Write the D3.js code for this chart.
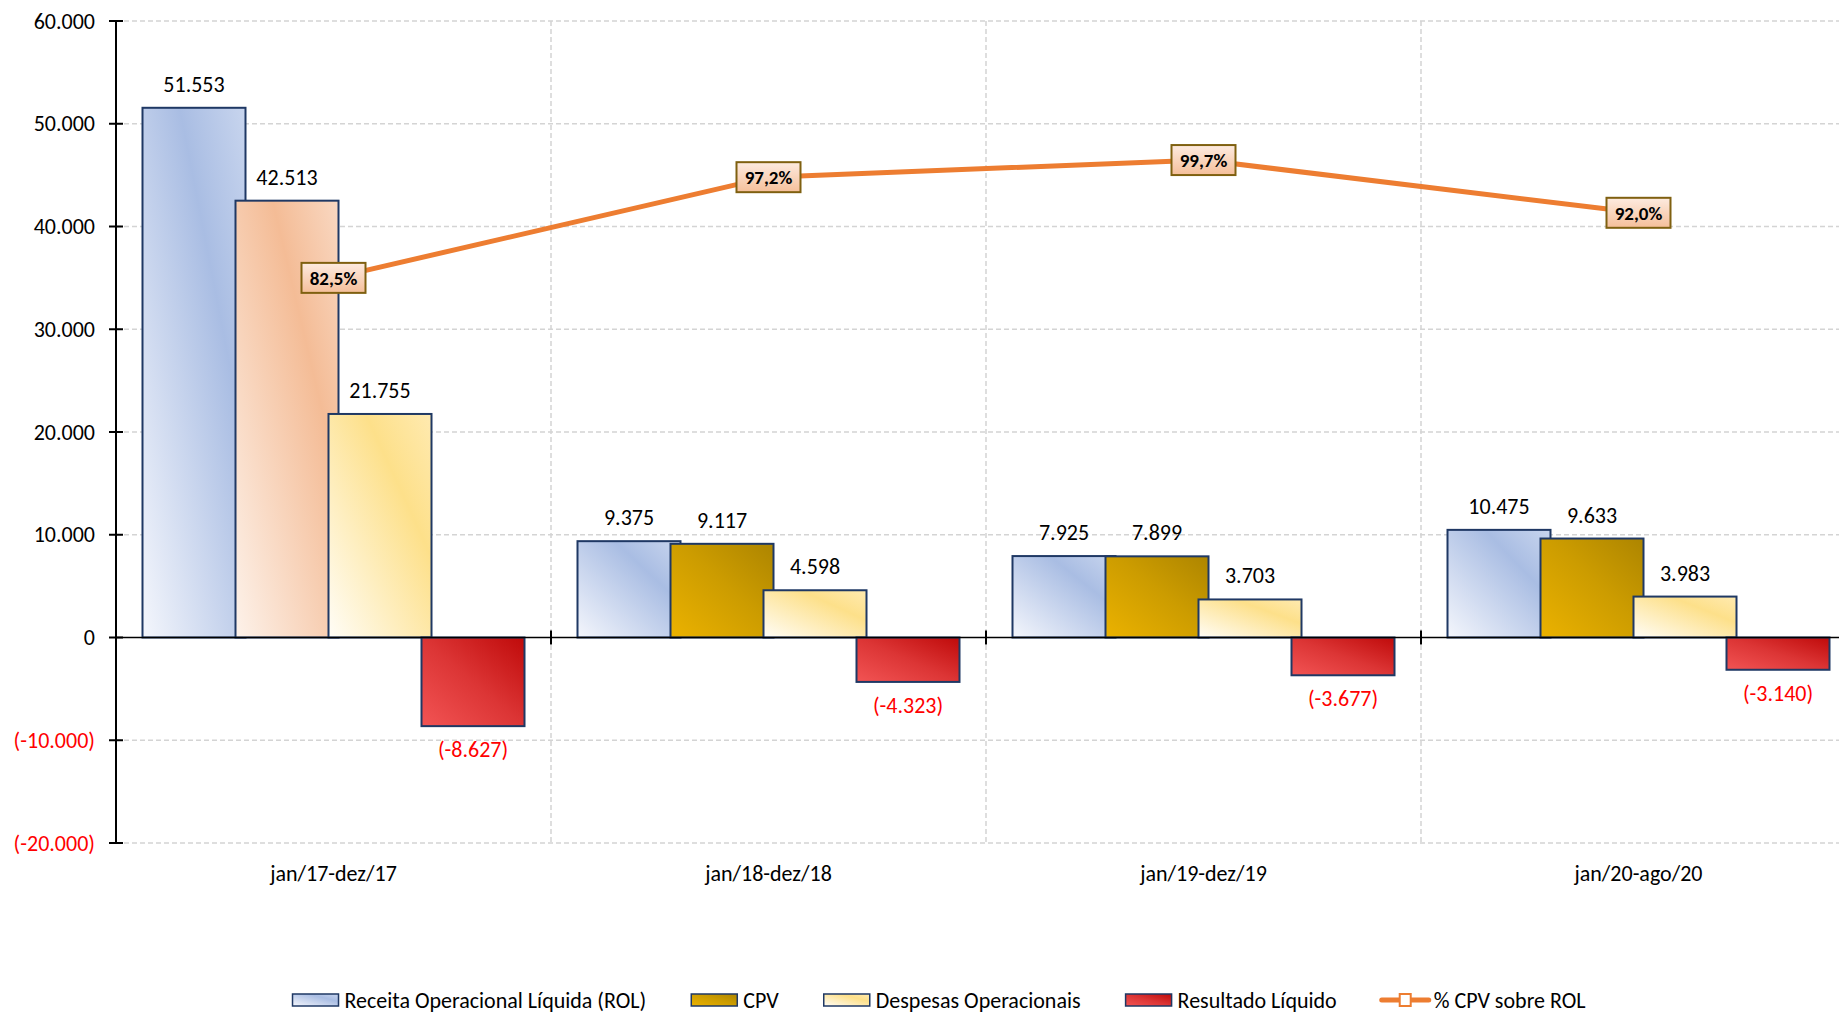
<!DOCTYPE html>
<html>
<head>
<meta charset="utf-8">
<script src="https://cdn.jsdelivr.net/npm/d3@7"></script>
<style>
 body { margin: 0; background: #fff; }
 svg { display: block; font-family: Carlito, Calibri, Lato, sans-serif; }
</style>
</head>
<body>
<svg width="1839" height="1015"></svg>
<script>
// Data
var categories = ["jan/17-dez/17", "jan/18-dez/18", "jan/19-dez/19", "jan/20-ago/20"];
var rol = [51553, 9375, 7925, 10475];
var cpv = [42513, 9117, 7899, 9633];
var despesas = [21755, 4598, 3703, 3983];
var resultado = [-8627, -4323, -3677, -3140];
var pctCpv = [0.825, 0.972, 0.997, 0.920];
var yTicks = [-20000, -10000, 0, 10000, 20000, 30000, 40000, 50000, 60000];

// The svg
var svg = d3.select("svg"),
 width = +svg.attr("width"),
 height = +svg.attr("height");

var fontSize = 22;
var locale = d3.formatLocale({ decimal: ",", thousands: ".", grouping: [3], currency: ["R$", ""], minus: "-" });
var fmtNum = locale.format(",.0f");
var fmtPct = locale.format(".1%");
function fmtVal(v) { return v < 0 ? "(" + fmtNum(v) + ")" : fmtNum(v); }

// Scales (plot area runs past the right edge, like the original)
var plotLeft = 116, plotTop = 21, plotBottom = 843, band = 435;
var x = d3.scaleBand()
 .domain(categories)
 .range([plotLeft, plotLeft + categories.length * band]);
var y = d3.scaleLinear().domain([-20000, 60000]).range([plotBottom, plotTop]);
var y2 = d3.scaleLinear().domain([0, 1.2]).range([plotBottom, plotTop]);

var barW = 103, barStep = 93;
var xs = d3.scaleLinear().domain([0, 3]).range([26.5, 26.5 + 3 * barStep]);

// Gradients
var defs = svg.append("defs");
function grad(id, stops) {
 var g = defs.append("linearGradient").attr("id", id)
  .attr("x1", 0).attr("y1", 1).attr("x2", 1).attr("y2", 0);
 stops.forEach(function (s) {
  g.append("stop").attr("offset", s[0]).attr("stop-color", s[1]);
 });
}
grad("gBlue", [[0, "#f4f6fc"], [0.68, "#a9bde3"], [1, "#c8d5ee"]]);
grad("gPeach", [[0, "#fdf2ea"], [0.68, "#f4bc96"], [1, "#f9d8c2"]]);
grad("gGold", [[0, "#ebb200"], [0.55, "#cc9c00"], [1, "#ad8500"]]);
grad("gYellow", [[0, "#fffdf7"], [0.68, "#fde08a"], [1, "#ffeab0"]]);
grad("gRed", [[0, "#f25454"], [0.5, "#dc3535"], [1, "#bf0a0a"]]);
var boxGrad = defs.append("linearGradient").attr("id", "gBox")
 .attr("x1", 0).attr("y1", 0).attr("x2", 0).attr("y2", 1);
boxGrad.append("stop").attr("offset", 0).attr("stop-color", "#fdebe0");
boxGrad.append("stop").attr("offset", 1).attr("stop-color", "#f5bf9a");

var series = [
 { key: "Receita Operacional Líquida (ROL)", values: rol, fill: function () { return "url(#gBlue)"; } },
 { key: "CPV", values: cpv, fill: function (i) { return i === 0 ? "url(#gPeach)" : "url(#gGold)"; } },
 { key: "Despesas Operacionais", values: despesas, fill: function () { return "url(#gYellow)"; } },
 { key: "Resultado Líquido", values: resultado, fill: function () { return "url(#gRed)"; } }
];

// Gridlines
var grid = svg.append("g").attr("class", "grid");
grid.selectAll("line.h")
 .data(yTicks.filter(function (d) { return d !== 0; }))
 .enter().append("line")
 .attr("x1", plotLeft).attr("x2", width)
 .attr("y1", function (d) { return y(d); }).attr("y2", function (d) { return y(d); })
 .attr("stroke", "#d4d4d4").attr("stroke-width", 1.5).attr("stroke-dasharray", "5,3");
grid.selectAll("line.v")
 .data(categories.slice(1))
 .enter().append("line")
 .attr("x1", function (d) { return x(d); }).attr("x2", function (d) { return x(d); })
 .attr("y1", plotTop).attr("y2", plotBottom)
 .attr("stroke", "#d4d4d4").attr("stroke-width", 1.5).attr("stroke-dasharray", "5,3");

// Bars
var bars = svg.append("g").attr("class", "bars");
categories.forEach(function (cat, i) {
 series.forEach(function (s, j) {
  var v = s.values[i];
  bars.append("rect")
   .attr("x", x(cat) + xs(j))
   .attr("y", y(Math.max(0, v)))
   .attr("width", barW)
   .attr("height", Math.abs(y(v) - y(0)))
   .attr("fill", s.fill(i))
   .attr("stroke", "#1f3864")
   .attr("stroke-width", 2);
 });
});

// Zero line + axis
svg.append("line")
 .attr("x1", plotLeft).attr("x2", width)
 .attr("y1", y(0)).attr("y2", y(0))
 .attr("stroke", "#000").attr("stroke-width", 1.5);
svg.selectAll("line.xtick")
 .data(categories.slice(1))
 .enter().append("line")
 .attr("x1", function (d) { return x(d); }).attr("x2", function (d) { return x(d); })
 .attr("y1", y(0) - 7).attr("y2", y(0) + 7)
 .attr("stroke", "#000").attr("stroke-width", 2);

var yAxis = svg.append("g");
yAxis.append("line")
 .attr("x1", plotLeft).attr("x2", plotLeft)
 .attr("y1", plotTop).attr("y2", plotBottom)
 .attr("stroke", "#000").attr("stroke-width", 2);
yAxis.selectAll("line.tick")
 .data(yTicks).enter().append("line")
 .attr("x1", plotLeft - 7).attr("x2", plotLeft + 7)
 .attr("y1", function (d) { return y(d); }).attr("y2", function (d) { return y(d); })
 .attr("stroke", "#000").attr("stroke-width", 2);
yAxis.selectAll("text")
 .data(yTicks).enter().append("text")
 .attr("x", 95)
 .attr("y", function (d) { return y(d); })
 .attr("dy", "0.35em")
 .attr("text-anchor", "end")
 .attr("font-size", fontSize)
 .attr("fill", function (d) { return d < 0 ? "#ff0000" : "#000"; })
 .text(fmtVal);

// Category labels
svg.selectAll("text.cat")
 .data(categories).enter().append("text")
 .attr("x", function (d) { return x(d) + x.bandwidth() / 2; })
 .attr("y", 881)
 .attr("text-anchor", "middle")
 .attr("font-size", fontSize)
 .attr("fill", "#000")
 .text(function (d) { return d; });

// Value labels
var vals = svg.append("g").attr("class", "values");
categories.forEach(function (cat, i) {
 series.forEach(function (s, j) {
  var v = s.values[i];
  vals.append("text")
   .attr("x", x(cat) + xs(j) + barW / 2)
   .attr("y", v >= 0 ? y(v) - 16 : y(v) + 31)
   .attr("text-anchor", "middle")
   .attr("font-size", fontSize)
   .attr("fill", v < 0 ? "#ff0000" : "#000")
   .text(fmtVal(v));
 });
});

// Line % CPV sobre ROL
var line = d3.line()
 .x(function (d, i) { return x(categories[i]) + x.bandwidth() / 2; })
 .y(function (d) { return y2(d); });
svg.append("path")
 .datum(pctCpv)
 .attr("d", line)
 .attr("fill", "none")
 .attr("stroke", "#ed7d31")
 .attr("stroke-width", 5)
 .attr("stroke-linejoin", "round");

var pl = svg.selectAll("g.pct")
 .data(pctCpv).enter().append("g")
 .attr("transform", function (d, i) {
  return "translate(" + (x(categories[i]) + x.bandwidth() / 2) + "," + y2(d) + ")";
 });
pl.append("rect")
 .attr("x", -32).attr("y", -15)
 .attr("width", 64).attr("height", 30)
 .attr("fill", "url(#gBox)")
 .attr("stroke", "#7f6010").attr("stroke-width", 2);
pl.append("text")
 .attr("text-anchor", "middle")
 .attr("dy", "0.36em")
 .attr("font-size", 19)
 .attr("font-weight", "bold")
 .attr("fill", "#000")
 .text(function (d) { return fmtPct(d); });

// Legend
var legend = svg.append("g").attr("class", "legend");
var items = series.map(function (s) { return { key: s.key, type: "bar", fill: s.fill(1) }; });
items.push({ key: "% CPV sobre ROL", type: "line" });
var lx = 0, ly = 1000;
items.forEach(function (it) {
 var g = legend.append("g").attr("transform", "translate(" + lx + ",0)");
 if (it.type === "bar") {
  g.append("rect")
   .attr("x", 0).attr("y", ly - 6)
   .attr("width", 46).attr("height", 12)
   .attr("fill", it.fill)
   .attr("stroke", "#1f3864").attr("stroke-width", 1.5);
 } else {
  g.append("line")
   .attr("x1", 0).attr("x2", 47)
   .attr("y1", ly).attr("y2", ly)
   .attr("stroke", "#ed7d31").attr("stroke-width", 5).attr("stroke-linecap", "round");
  g.append("rect")
   .attr("x", 18).attr("y", ly - 6)
   .attr("width", 11).attr("height", 12)
   .attr("fill", "#fff").attr("stroke", "#ed7d31").attr("stroke-width", 2);
 }
 var t = g.append("text")
  .attr("x", 52).attr("y", ly).attr("dy", "0.35em")
  .attr("font-size", fontSize).attr("fill", "#000")
  .text(it.key);
 lx += 52 + t.node().getComputedTextLength() + 45;
});
var lw = lx - 45;
legend.attr("transform", "translate(" + (939 - lw / 2) + ",0)");
</script>
</body>
</html>
